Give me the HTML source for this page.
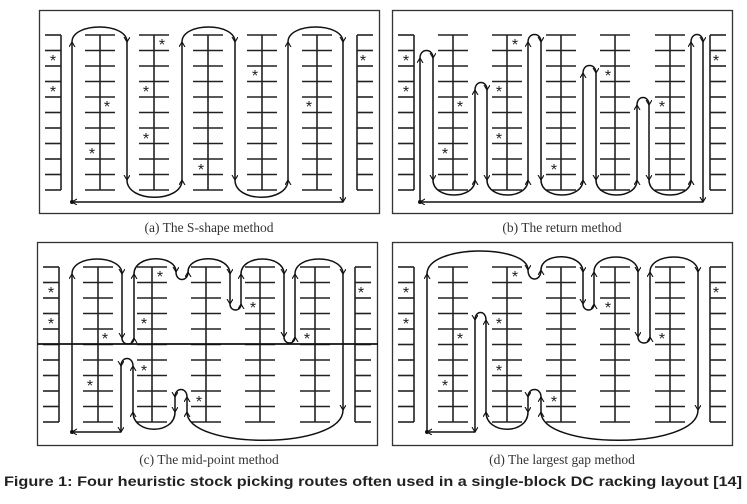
<!DOCTYPE html>
<html><head><meta charset="utf-8"><style>
html,body{margin:0;padding:0;background:#fff;width:747px;height:504px;overflow:hidden}
svg{display:block}
.r line{stroke:#222;stroke-width:1.6}
.p path{fill:none;stroke:#111;stroke-width:1.5;marker-end:url(#ah)}
.st{font-family:"Liberation Sans",sans-serif;font-size:16px;fill:#222;text-anchor:middle}
.cap{font-family:"Liberation Serif",serif;font-size:13.5px;fill:#333;text-anchor:middle}
</style></head><body>
<svg width="747" height="504" viewBox="0 0 747 504" xmlns="http://www.w3.org/2000/svg">
<defs>
<marker id="ah" markerWidth="8" markerHeight="8" refX="5" refY="3" orient="auto" markerUnits="userSpaceOnUse">
<path d="M0,0 L5,3 L0,6" fill="none" stroke="#111" stroke-width="1.1"/>
</marker>
<g id="rack2" class="r">
<line x1="0" y1="25" x2="0" y2="180"/>
<line x1="-15" y1="25" x2="15" y2="25"/><line x1="-15" y1="40.5" x2="15" y2="40.5"/><line x1="-15" y1="56" x2="15" y2="56"/><line x1="-15" y1="71.5" x2="15" y2="71.5"/><line x1="-15" y1="87" x2="15" y2="87"/><line x1="-15" y1="102.5" x2="15" y2="102.5"/><line x1="-15" y1="118" x2="15" y2="118"/><line x1="-15" y1="133.5" x2="15" y2="133.5"/><line x1="-15" y1="149" x2="15" y2="149"/><line x1="-15" y1="164.5" x2="15" y2="164.5"/><line x1="-15" y1="180" x2="15" y2="180"/>
</g>
<g id="rackL" class="r">
<line x1="22" y1="25" x2="22" y2="180"/>
<line x1="6" y1="25" x2="22" y2="25"/><line x1="6" y1="40.5" x2="22" y2="40.5"/><line x1="6" y1="56" x2="22" y2="56"/><line x1="6" y1="71.5" x2="22" y2="71.5"/><line x1="6" y1="87" x2="22" y2="87"/><line x1="6" y1="102.5" x2="22" y2="102.5"/><line x1="6" y1="118" x2="22" y2="118"/><line x1="6" y1="133.5" x2="22" y2="133.5"/><line x1="6" y1="149" x2="22" y2="149"/><line x1="6" y1="164.5" x2="22" y2="164.5"/><line x1="6" y1="180" x2="22" y2="180"/>
</g>
<g id="base">
<rect x="0.5" y="0.5" width="340" height="203" fill="none" stroke="#333" stroke-width="1.3"/>
<use href="#rackL"/>
<use href="#rackL" transform="translate(340,0) scale(-1,1)"/>
<use href="#rack2" x="61"/><use href="#rack2" x="115"/><use href="#rack2" x="169"/><use href="#rack2" x="223"/><use href="#rack2" x="278"/>
<g class="st">
<text x="14" y="56">*</text><text x="14" y="87">*</text><text x="68" y="102">*</text><text x="53" y="149">*</text><text x="123" y="40">*</text><text x="107" y="87">*</text><text x="107" y="134">*</text><text x="162" y="165">*</text><text x="216" y="71">*</text><text x="270" y="102">*</text><text x="324" y="56">*</text>
</g>
</g>
</defs>

<!-- (a) -->
<g transform="translate(39,10)">
<use href="#base"/>
<g class="p">
<path d="M33,192 L33,32"/><path d="M33,32 C33,12 88,12 88,32"/><path d="M88,32 L88,170"/>
<path d="M88,170 C88,193 143,193 143,170"/><path d="M143,170 L143,32"/><path d="M143,32 C143,12 196,12 196,32"/>
<path d="M196,32 L196,170"/><path d="M196,170 C196,193 249,193 249,170"/><path d="M249,170 L249,32"/>
<path d="M249,32 C249,12 304,12 304,32"/><path d="M304,32 L304,192"/><path d="M304,192 L33,192"/>
</g>
<circle cx="33" cy="192" r="2" fill="#111"/>
</g>
<text class="cap" x="209" y="232">(a) The S-shape method</text>

<!-- (b) -->
<g transform="translate(392,10)">
<use href="#base"/>
<g class="p">
<path d="M28,192 L28,48"/><path d="M28,48 C28,38 41,38 41,48"/><path d="M41,48 L41,170"/>
<path d="M41,170 C41,190 83,190 83,170"/><path d="M83,170 L83,80"/><path d="M83,80 C83,70 95,70 95,80"/><path d="M95,80 L95,170"/>
<path d="M95,170 C95,190 136,190 136,170"/><path d="M136,170 L136,32"/><path d="M136,32 C136,22 149,22 149,32"/><path d="M149,32 L149,170"/>
<path d="M149,170 C149,190 191,190 191,170"/><path d="M191,170 L191,63"/><path d="M191,63 C191,53 204,53 204,63"/><path d="M204,63 L204,170"/>
<path d="M204,170 C204,190 245,190 245,170"/><path d="M245,170 L245,95"/><path d="M245,95 C245,85 257,85 257,95"/><path d="M257,95 L257,170"/>
<path d="M257,170 C257,190 299,190 299,170"/><path d="M299,170 L299,32"/><path d="M299,32 C299,22 311,22 311,32"/><path d="M311,32 L311,192"/>
<path d="M311,192 L28,192"/>
</g>
<circle cx="28" cy="192" r="2" fill="#111"/>
</g>
<text class="cap" x="562" y="232">(b) The return method</text>

<!-- (c) -->
<g transform="translate(37,242)">
<use href="#base"/>
<line x1="0" y1="102" x2="341" y2="102" stroke="#111" stroke-width="1.8"/>
<g class="p">
<path d="M35,190 L35,32"/><path d="M35,32 C35,12 85,12 85,32"/><path d="M85,32 L85,96"/>
<path d="M85,96 C85,104 97,104 97,96"/><path d="M97,96 L97,32"/><path d="M97,32 C97,12 139,12 139,30"/>
<path d="M139,30 C139,40 151,40 151,30"/><path d="M151,30 C151,12 193,12 193,32"/><path d="M193,32 L193,62"/>
<path d="M193,62 C193,70 204,70 204,62"/><path d="M204,62 L204,32"/><path d="M204,32 C204,12 247,12 247,32"/>
<path d="M247,32 L247,95"/><path d="M247,95 C247,103 258,103 258,95"/><path d="M258,95 L258,32"/>
<path d="M258,32 C258,12 306,12 306,32"/><path d="M306,32 L306,168"/>
<path d="M306,168 C306,208 150,208 150,170"/><path d="M150,170 L150,155"/><path d="M150,155 C150,145 138,145 138,155"/>
<path d="M138,155 L138,170"/><path d="M138,170 C138,193 96,193 96,170"/><path d="M96,170 L96,124"/>
<path d="M96,124 C96,114 84,114 84,124"/><path d="M84,124 L84,190"/><path d="M84,190 L35,190"/>
</g>
<circle cx="35" cy="190" r="2" fill="#111"/>
</g>
<text class="cap" x="209" y="464">(c) The mid-point method</text>

<!-- (d) -->
<g transform="translate(392,242)">
<use href="#base"/>
<g class="p">
<path d="M35,190 L35,32"/><path d="M35,32 C35,2 136,2 136,28"/>
<path d="M136,28 C136,40 149,40 149,28"/><path d="M149,28 C149,10 191,10 191,30"/><path d="M191,30 L191,62"/>
<path d="M191,62 C191,70 202,70 202,62"/><path d="M202,62 L202,30"/><path d="M202,30 C202,10 246,10 246,30"/>
<path d="M246,30 L246,95"/><path d="M246,95 C246,103 258,103 258,95"/><path d="M258,95 L258,30"/>
<path d="M258,30 C258,10 306,10 306,30"/><path d="M306,30 L306,168"/>
<path d="M306,168 C306,208 149,208 149,170"/><path d="M149,170 L149,155"/><path d="M149,155 C149,145 136,145 136,155"/>
<path d="M136,155 L136,170"/><path d="M136,170 C136,193 94,193 94,170"/><path d="M94,170 L94,78"/>
<path d="M94,78 C94,68 83,68 83,78"/><path d="M83,78 L83,190"/><path d="M83,190 L35,190"/>
</g>
<circle cx="35" cy="190" r="2" fill="#111"/>
</g>
<text class="cap" x="562" y="464">(d) The largest gap method</text>

<text x="4" y="486" font-family="Liberation Sans, sans-serif" font-weight="bold" font-size="14" fill="#222" textLength="738" lengthAdjust="spacingAndGlyphs">Figure 1: Four heuristic stock picking routes often used in a single-block DC racking layout [14]</text>
</svg>
</body></html>
